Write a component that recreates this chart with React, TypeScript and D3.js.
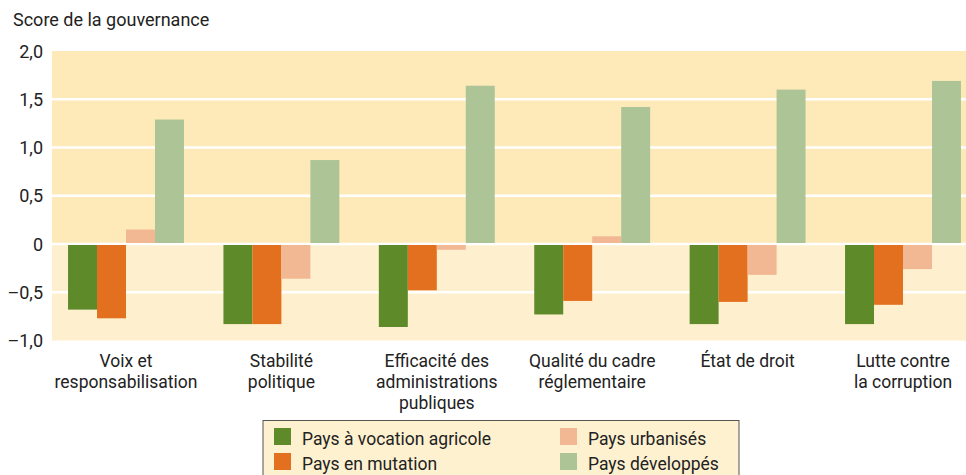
import * as d3 from 'd3';

const categories = [
  ['Voix et', 'responsabilisation'],
  ['Stabilité', 'politique'],
  ['Efficacité des', 'administrations', 'publiques'],
  ['Qualité du cadre', 'réglementaire'],
  ['État de droit'],
  ['Lutte contre', 'la corruption'],
];
const seriesNames = ['Pays à vocation agricole', 'Pays en mutation', 'Pays urbanisés', 'Pays développés'];
const seriesColors = ['#5e8a2a', '#e2701f', '#f2b893', '#adc596'];
const agricole = [-0.68, -0.83, -0.86, -0.73, -0.83, -0.83];
const mutation = [-0.77, -0.83, -0.48, -0.59, -0.60, -0.63];
const urbanises = [0.15, -0.36, -0.06, 0.08, -0.32, -0.26];
const developpes = [1.29, 0.87, 1.64, 1.42, 1.60, 1.69];
const yTicks = [2, 1.5, 1, 0.5, 0, -0.5, -1];
const yTickLabels = ['2,0', '1,5', '1,0', '0,5', '0', '–0,5', '–1,0'];

const W = 966;
const H = 475;
const FONT = 'Roboto, "Liberation Sans", sans-serif';

export default function App() {
  const series = [agricole, mutation, urbanises, developpes];
  const left = 52;
  const right = 966;
  const y = d3.scaleLinear().domain([-1, 2]).range([340.5, 51]);
  const x0 = d3.scaleBand<number>()
    .domain(d3.range(categories.length))
    .range([48.3, 980.7])
    .paddingInner(0.254)
    .paddingOuter(0.127);
  const x1 = d3.scaleBand<number>().domain(d3.range(4)).range([0, x0.bandwidth()]);
  const y0 = y(0);

  return (
    <svg width={W} height={H} style={{ position: 'absolute', left: 0, top: 0 }} fontFamily={FONT}>
      <text x={13} y={26} fontSize={18} fill="#222">Score de la gouvernance</text>
      <rect x={left} y={y(2)} width={right - left} height={y0 - y(2)} fill="#feeab9" />
      <rect x={left} y={y0} width={right - left} height={y(-1) - y0} fill="#fef0ce" />
      {yTicks.filter(t => t > -1 && t < 2).map(t => (
        <line key={t} x1={left} x2={right} y1={y(t)} y2={y(t)} stroke="#fff" strokeWidth={2.5} />
      ))}
      {yTicks.map((t, i) => (
        <text key={t} x={43} y={y(t) + 6.5} textAnchor="end" fontSize={18} fill="#222">{yTickLabels[i]}</text>
      ))}
      {categories.map((c, ci) => (
        <g key={ci} transform={`translate(${x0(ci)},0)`}>
          {series.map((s, si) => {
            const v = s[ci];
            const top = v >= 0 ? y(v) : y0 + 1;
            const h = Math.abs(y(v) - y0) - 1;
            return (
              <rect key={si} x={x1(si)} y={top} width={x1.bandwidth()}
                height={Math.max(0, h)} fill={seriesColors[si]} />
            );
          })}
          {c.map((line, li) => (
            <text key={li} x={x0.bandwidth() / 2} y={367 + li * 21} textAnchor="middle" fontSize={17.5} fill="#222">{line}</text>
          ))}
        </g>
      ))}
      <rect x={263} y={420.5} width={476} height={60} fill="#fef1d0" stroke="#555" strokeWidth={1} />
      {seriesNames.map((n, i) => {
        const col = i < 2 ? 0 : 1;
        const row = i % 2;
        const sx = col === 0 ? 274 : 560;
        const sy = 428 + row * 25;
        return (
          <g key={n}>
            <rect x={sx} y={sy} width={17} height={17} fill={seriesColors[i]} />
            <text x={sx + 28} y={sy + 17} fontSize={17.5} fill="#222">{n}</text>
          </g>
        );
      })}
    </svg>
  );
}
